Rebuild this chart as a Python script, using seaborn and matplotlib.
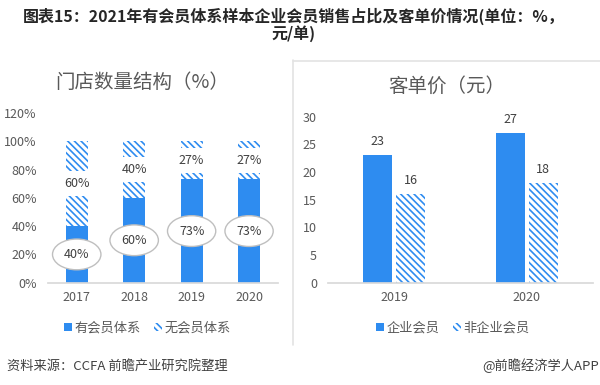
import pandas as pd
import matplotlib.pyplot as plt
import seaborn as sns
from matplotlib.patches import Patch
from matplotlib.lines import Line2D

# 门店数量结构（%）
anios_izq = ['2017', '2018', '2019', '2020']
con_sistema = [40, 60, 73, 73]
sin_sistema = [60, 40, 27, 27]

# 客单价（元）
anios_der = ['2019', '2020']
precio_socio = [23, 27]
precio_no_socio = [16, 18]

AZUL = '#2E8CF0'
GRIS = '#595959'
TRAMA = '\\' * 5

sns.set_theme(style='white')
plt.rcParams['font.family'] = ['Noto Sans CJK SC', 'DejaVu Sans']
plt.rcParams['hatch.linewidth'] = 1.2


def estilo_ejes(ax):
    for lado in ['top', 'right', 'left']:
        ax.spines[lado].set_visible(False)
    ax.spines['bottom'].set_color('#d9d9d9')
    ax.tick_params(axis='both', length=0, labelsize=9, labelcolor=GRIS)
    ax.tick_params(axis='x', pad=6)
    ax.tick_params(axis='y', pad=8)
    ax.set_xlabel('')
    ax.set_ylabel('')


fig = plt.figure(figsize=(6, 3.85), dpi=100)

# --- panel izquierdo ---
ax1 = fig.add_axes([0.08, 0.2657, 0.383, 0.4408])
totales = [a + b for a, b in zip(con_sistema, sin_sistema)]
sns.barplot(x=anios_izq, y=totales, color='white', width=0.38, errorbar=None, ax=ax1)
for p in ax1.patches:
    p.set_facecolor('white')
    p.set_edgecolor(AZUL)
    p.set_hatch(TRAMA)
    p.set_linewidth(0)
sns.barplot(x=anios_izq, y=con_sistema, color=AZUL, width=0.38, errorbar=None,
            saturation=1, linewidth=0, ax=ax1)
ax1.set_ylim(0, 120)
ax1.set_yticks(range(0, 121, 20))
ax1.set_yticklabels([f'{v}%' for v in range(0, 121, 20)])
estilo_ejes(ax1)

for i, (a, b) in enumerate(zip(con_sistema, sin_sistema)):
    ax1.text(i, a / 2, f'{a}%', ha='center', va='center', fontsize=9, color='#404040',
             bbox=dict(boxstyle='ellipse,pad=0.35', fc='white', ec='#bfbfbf', lw=1))
    ax1.text(i, a + b / 2, f'{b}%', ha='center', va='center', fontsize=9, color='#404040',
             bbox=dict(boxstyle='square,pad=0.5', fc='white', ec='none'))

# --- panel derecho ---
ax2 = fig.add_axes([0.5467, 0.2657, 0.4417, 0.4313])
df = pd.DataFrame({
    'anio': anios_der * 2,
    'tipo': ['企业会员'] * len(anios_der) + ['非企业会员'] * len(anios_der),
    'valor': precio_socio + precio_no_socio,
})
sns.barplot(data=df, x='anio', y='valor', hue='tipo', palette=[AZUL, AZUL], width=0.5,
            gap=0.12, saturation=1, linewidth=0, errorbar=None, legend=False, ax=ax2)
for p in ax2.containers[1]:
    p.set_facecolor('white')
    p.set_edgecolor(AZUL)
    p.set_hatch(TRAMA)
    p.set_linewidth(0)
for c in ax2.containers:
    ax2.bar_label(c, padding=5, fontsize=9, color='#404040')
ax2.set_ylim(0, 30)
ax2.set_yticks(range(0, 31, 5))
estilo_ejes(ax2)

# títulos
fig.text(0.49, 0.935, '图表15：2021年有会员体系样本企业会员销售占比及客单价情况(单位：%，\n元/单)',
         ha='center', va='center', fontsize=11.5, fontweight='bold', color='#262626',
         linespacing=1.05)
fig.text(0.237, 0.787, '门店数量结构（%）', ha='center', va='center', fontsize=14, color=GRIS)
fig.text(0.745, 0.777, '客单价（元）', ha='center', va='center', fontsize=14, color=GRIS)

# separadores
fig.add_artist(Line2D([0.488, 0.488], [0.104, 0.844], color='#e3e3e3', lw=1.2))
fig.add_artist(Line2D([0.488, 1.0], [0.842, 0.842], color='#e3e3e3', lw=1.2))

# leyendas
def leyenda(x, etiquetas):
    h = [Patch(facecolor=AZUL, edgecolor=AZUL, lw=0),
         Patch(facecolor='white', edgecolor=AZUL, hatch=TRAMA, lw=0)]
    fig.legend(h, etiquetas, loc='center', bbox_to_anchor=(x, 0.148), ncol=2, frameon=False,
               fontsize=9.5, handlelength=0.6, handleheight=0.6, handletextpad=0.2,
               columnspacing=1.0, labelcolor=GRIS)

leyenda(0.246, ['有会员体系', '无会员体系'])
leyenda(0.755, ['企业会员', '非企业会员'])

fig.text(0.012, 0.049, '资料来源：CCFA 前瞻产业研究院整理', ha='left', va='center',
         fontsize=9.5, color='#404040')
fig.text(0.998, 0.049, '@前瞻经济学人APP', ha='right', va='center', fontsize=9.5, color='#404040')

fig.savefig('out.png', dpi=100)
